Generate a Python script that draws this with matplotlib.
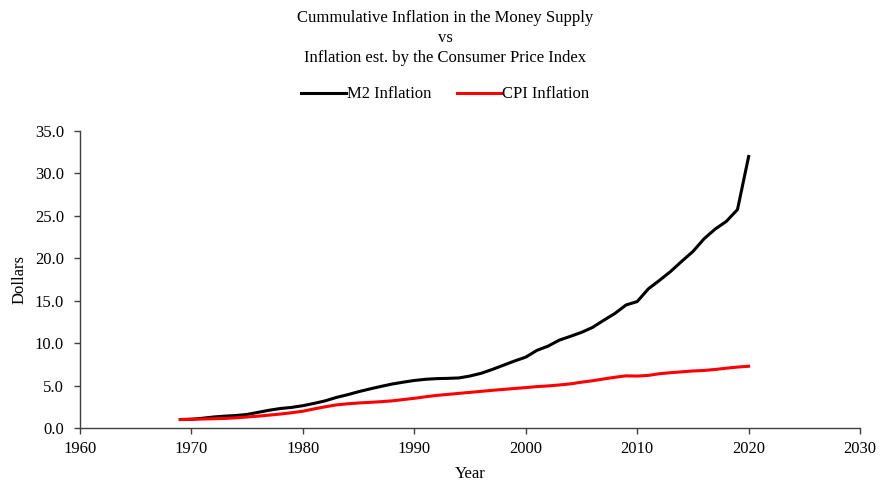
#!/usr/bin/env python3
"""Cumulative M2 inflation vs CPI inflation, 1969-2020."""

import matplotlib.pyplot as plt
from matplotlib.ticker import FormatStrFormatter

years = list(range(1969, 2021))

m2_inflation = [
    1.00, 1.03, 1.15, 1.30, 1.40, 1.47, 1.60, 1.85, 2.10, 2.30,
    2.43, 2.63, 2.90, 3.20, 3.60, 3.92, 4.28, 4.60, 4.90, 5.18,
    5.40, 5.60, 5.74, 5.82, 5.85, 5.90, 6.13, 6.45, 6.90, 7.40,
    7.90, 8.35, 9.15, 9.65, 10.35, 10.80, 11.27, 11.86, 12.70, 13.50,
    14.50, 14.90, 16.40, 17.40, 18.45, 19.65, 20.80, 22.30, 23.45, 24.35,
    25.75, 32.00,
]

cpi_inflation = [
    1.00, 1.03, 1.06, 1.09, 1.13, 1.20, 1.30, 1.40, 1.52, 1.65,
    1.80, 1.98, 2.25, 2.50, 2.72, 2.85, 2.95, 3.02, 3.10, 3.20,
    3.35, 3.50, 3.68, 3.84, 3.96, 4.08, 4.20, 4.32, 4.44, 4.55,
    4.66, 4.76, 4.88, 4.96, 5.07, 5.20, 5.40, 5.57, 5.78, 5.98,
    6.15, 6.12, 6.20, 6.40, 6.52, 6.62, 6.72, 6.78, 6.90, 7.05,
    7.18, 7.28,
]

plt.rcParams.update(
    {
        "font.family": ["Liberation Serif", "DejaVu Serif"],
        "font.size": 12,
        "axes.linewidth": 1.0,
    }
)

fig = plt.figure(figsize=(8.91, 4.84), dpi=100)
ax = fig.add_axes([0.0898, 0.1157, 0.8755, 0.6136])

ax.plot(years, m2_inflation, color="black", linewidth=2.2, label="M2 Inflation")
ax.plot(years, cpi_inflation, color="#ff0000", linewidth=2.2, label="CPI Inflation")

ax.set_xlim(1960, 2030)
ax.set_ylim(0, 35)
ax.set_xticks(range(1960, 2031, 10))
ax.set_yticks(range(0, 36, 5))
ax.yaxis.set_major_formatter(FormatStrFormatter("%.1f"))
ax.tick_params(direction="out", length=4.5, width=1.0, color="#404040")
ax.tick_params(axis="y", pad=7)
ax.tick_params(axis="x", pad=5)

for side in ("top", "right"):
    ax.spines[side].set_visible(False)
for side in ("left", "bottom"):
    ax.spines[side].set_color("#404040")

ax.set_xlabel("Year", labelpad=6.5)
ax.set_ylabel("Dollars", labelpad=5)

fig.text(
    0.5, 0.979,
    "Cummulative Inflation in the Money Supply\nvs\nInflation est. by the Consumer Price Index",
    ha="center", va="top", fontsize=12, linespacing=1.33,
)

ax.legend(
    loc="center",
    bbox_to_anchor=(0.5, 0.805),
    bbox_transform=fig.transFigure,
    ncol=2,
    frameon=False,
    handlelength=2.65,
    handletextpad=0.1,
    columnspacing=1.5,
    fontsize=12,
)

fig.savefig("out.png", dpi=100, facecolor="white")
